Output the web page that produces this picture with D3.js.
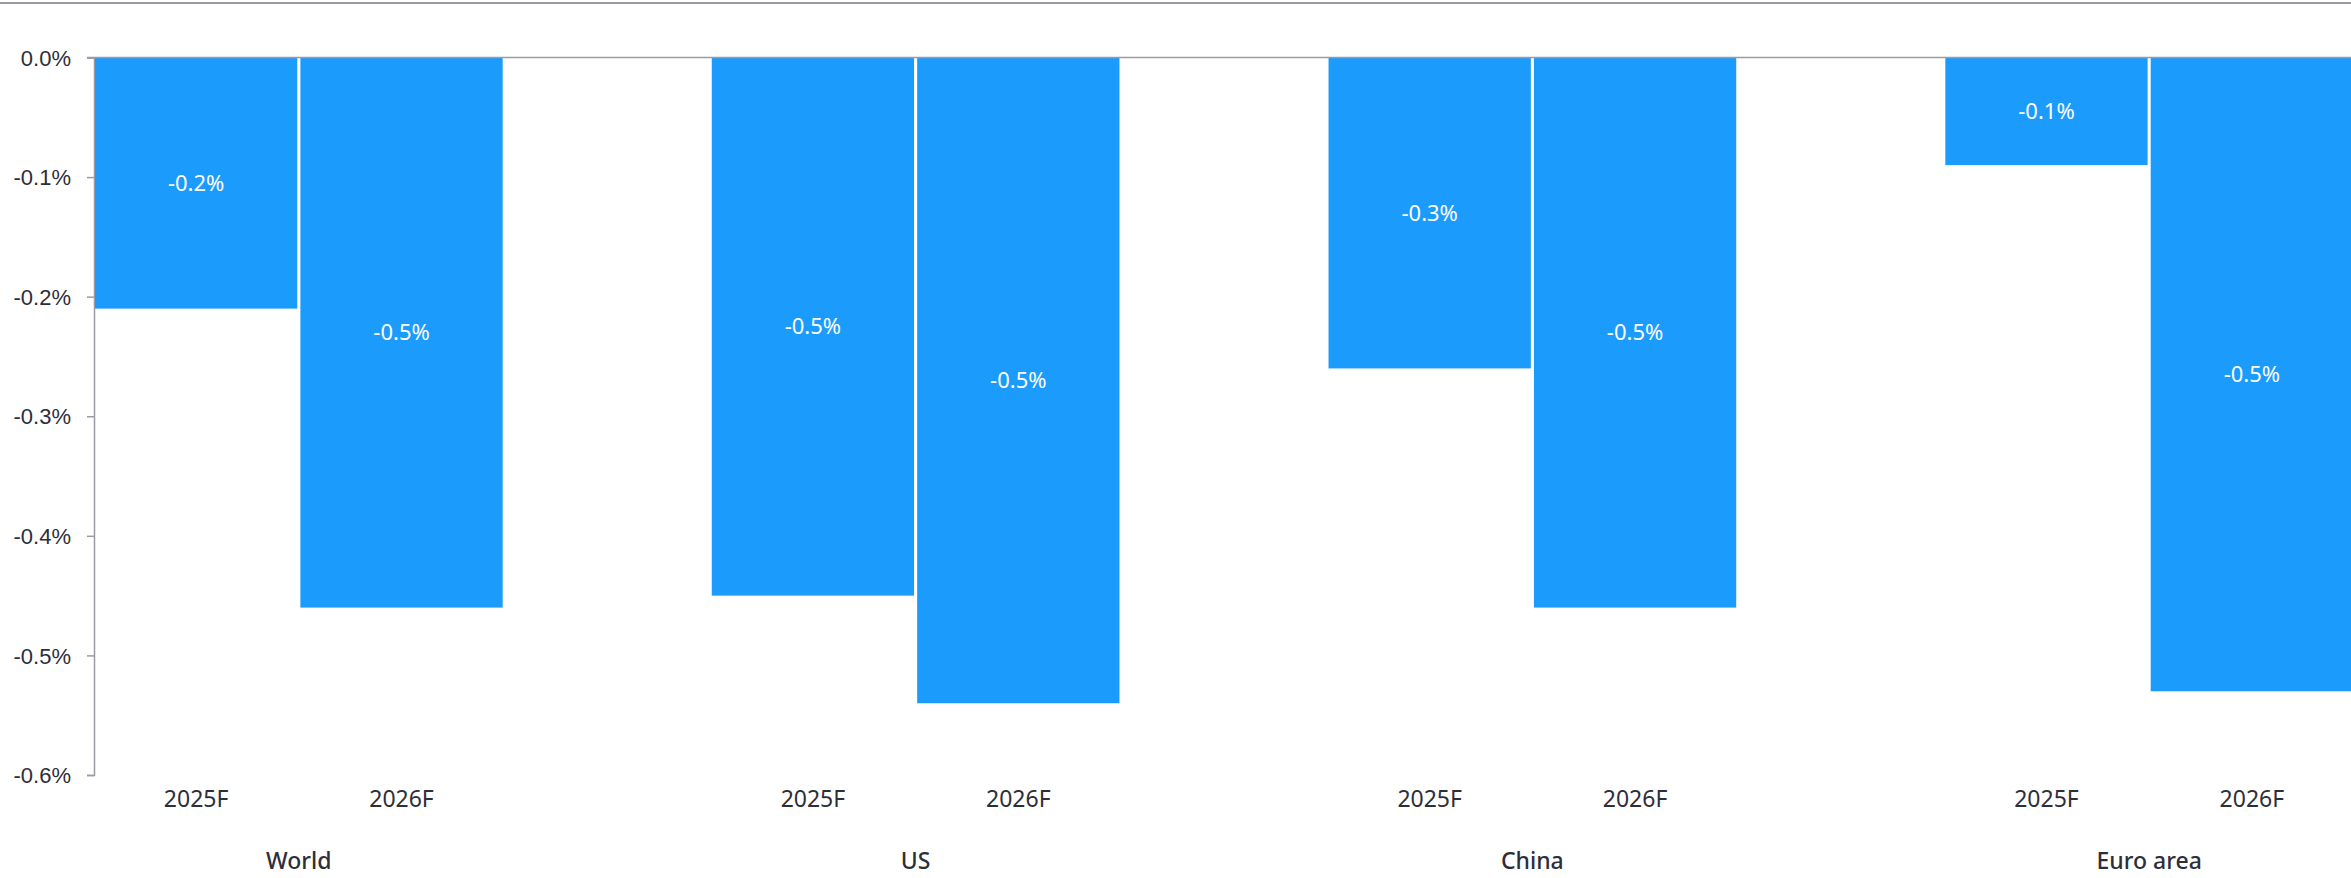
<!DOCTYPE html>
<html>
<head>
<meta charset="utf-8">
<script src="https://cdn.jsdelivr.net/npm/d3@7"></script>
<style>
  html, body { margin: 0; padding: 0; background: #fff; }
  svg { display: block; font-family: "Noto Sans", sans-serif; }
</style>
</head>
<body>
<svg id="chart" width="2351" height="878"></svg>
<script>
// data
const regions = ["World", "US", "China", "Euro area"];
const years = ["2025F", "2026F"];
const values2025 = [-0.21, -0.45, -0.26, -0.09];
const values2026 = [-0.46, -0.54, -0.46, -0.53];
const yTicks = [0, -0.1, -0.2, -0.3, -0.4, -0.5, -0.6];

const data = regions.map((r, i) => ({
    region: r,
    bars: [
        { year: years[0], value: values2025[i] },
        { year: years[1], value: values2026[i] }
    ]
}));

const W = 2351, H = 878;
const textColor = "#2e2e38";
const barColor = "#1b9bfc";
const axisColor = "#9b9ba3";

// plain hyphen for negatives, like the original
const fmt = d3.formatLocale({ decimal: ".", thousands: ",", grouping: [3], currency: ["", ""], minus: "-" }).format(".1f");
const pct = d => fmt(d) + "%";

const svg = d3.select("#chart");

// top rule
svg.append("line")
    .attr("x1", 0).attr("x2", W)
    .attr("y1", 3).attr("y2", 3)
    .attr("stroke", axisColor)
    .attr("stroke-width", 2);

const y = d3.scaleLinear().domain([-0.6, 0]).range([775, 57.5]);

const x0 = d3.scaleBand()
    .domain(regions)
    .range([95, 2353])
    .paddingInner(0.339)
    .paddingOuter(0);

const x1 = d3.scaleBand()
    .domain(years)
    .range([0, x0.bandwidth()])
    .paddingInner(0.015);

// y axis
const yAxis = svg.append("g")
    .attr("transform", "translate(94,0)")
    .call(d3.axisLeft(y).tickValues(yTicks).tickSize(7).tickPadding(16).tickFormat(pct));
yAxis.select(".domain").attr("stroke", axisColor).attr("stroke-width", 1.5);
yAxis.selectAll(".tick line").attr("stroke", axisColor).attr("stroke-width", 1.5);
yAxis.selectAll(".tick text")
    .attr("fill", textColor)
    .style("font-size", "22px")
    .attr("dy", "0.35em");

// bars
const groups = svg.append("g").selectAll("g")
    .data(data)
    .join("g")
    .attr("transform", d => `translate(${x0(d.region)},0)`);

groups.selectAll("rect")
    .data(d => d.bars)
    .join("rect")
    .attr("x", d => x1(d.year))
    .attr("y", y(0))
    .attr("width", x1.bandwidth())
    .attr("height", d => y(d.value) - y(0))
    .attr("fill", barColor);

groups.selectAll(".val")
    .data(d => d.bars)
    .join("text")
    .attr("class", "val")
    .attr("x", d => x1(d.year) + x1.bandwidth() / 2)
    .attr("y", d => (y(0) + y(d.value)) / 2)
    .attr("dy", "0.35em")
    .attr("text-anchor", "middle")
    .attr("fill", "#fff")
    .style("font-size", "22px")
    .text(d => pct(d.value));

// year labels
groups.selectAll(".yr")
    .data(d => d.bars)
    .join("text")
    .attr("class", "yr")
    .attr("x", d => x1(d.year) + x1.bandwidth() / 2)
    .attr("y", 807)
    .attr("text-anchor", "middle")
    .attr("fill", textColor)
    .style("font-size", "23px")
    .text(d => d.year);

// region labels
groups.append("text")
    .attr("x", x0.bandwidth() / 2)
    .attr("y", 869)
    .attr("text-anchor", "middle")
    .attr("fill", textColor)
    .style("font-size", "23px")
    .style("font-weight", 500)
    .text(d => d.region);

// zero line over the bars
svg.append("line")
    .attr("x1", 87).attr("x2", W)
    .attr("y1", y(0)).attr("y2", y(0))
    .attr("stroke", axisColor)
    .attr("stroke-width", 1.5);
</script>
</body>
</html>
